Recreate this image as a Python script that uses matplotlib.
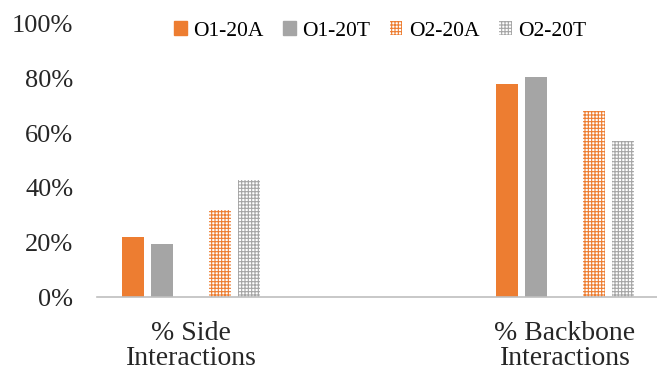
import numpy as np
import matplotlib
matplotlib.use("Agg")
import matplotlib.pyplot as plt
from matplotlib.patches import Patch

# Data
categories = ["% Side\nInteractions", "% Backbone\nInteractions"]
series = ["O1-20A", "O1-20T", "O2-20A", "O2-20T"]
o1_20a = [0.22, 0.78]
o1_20t = [0.195, 0.805]
o2_20a = [0.32, 0.68]
o2_20t = [0.43, 0.57]
yticks = [0, 0.2, 0.4, 0.6, 0.8, 1.0]
ytick_labels = ["0%", "20%", "40%", "60%", "80%", "100%"]

ORANGE = "#ED7D31"
GRAY = "#A5A5A5"

plt.rcParams["font.family"] = ["Liberation Serif", "DejaVu Serif"]
plt.rcParams["hatch.linewidth"] = 0.8

fig = plt.figure(figsize=(6.57, 3.72), dpi=100)
ax = fig.add_axes([97 / 657, 75 / 372, 560 / 657, 273 / 372])

x = np.arange(len(categories))
slot = 29 / 374
width = 22 / 374

styles = [
    (o1_20a, -2, dict(color=ORANGE)),
    (o1_20t, -1, dict(color=GRAY)),
    (o2_20a, 1, dict(facecolor="white", edgecolor=ORANGE, hatch="+++++", linewidth=0)),
    (o2_20t, 2, dict(facecolor="white", edgecolor=GRAY, hatch="+++++", linewidth=0)),
]
handles = []
for (vals, off, kw), name in zip(styles, series):
    ax.bar(x + off * slot, vals, width, **kw)
    handles.append(Patch(label=name, **kw))

ax.set_xlim(-94 / 374, 466 / 374)
ax.set_ylim(0, 1)
ax.set_yticks(yticks)
ax.set_yticklabels(ytick_labels, fontsize=19, color="#262626")
ax.set_xticks(x)
ax.set_xticklabels(categories, fontsize=20, color="#262626", linespacing=1.0)
ax.tick_params(axis="y", length=0, pad=17)
ax.tick_params(axis="x", length=0, pad=17)

for side in ["top", "right", "left"]:
    ax.spines[side].set_visible(False)
ax.spines["bottom"].set_color("#BFBFBF")
ax.spines["bottom"].set_linewidth(1.2)

fig.legend(handles=handles, loc="center", bbox_to_anchor=(380 / 657, 1 - 31 / 372),
           ncol=4, frameon=False, fontsize=15.5, handlelength=0.6, handleheight=0.6,
           handletextpad=0.3, columnspacing=0.9)

fig.savefig("out.png", dpi=100)
